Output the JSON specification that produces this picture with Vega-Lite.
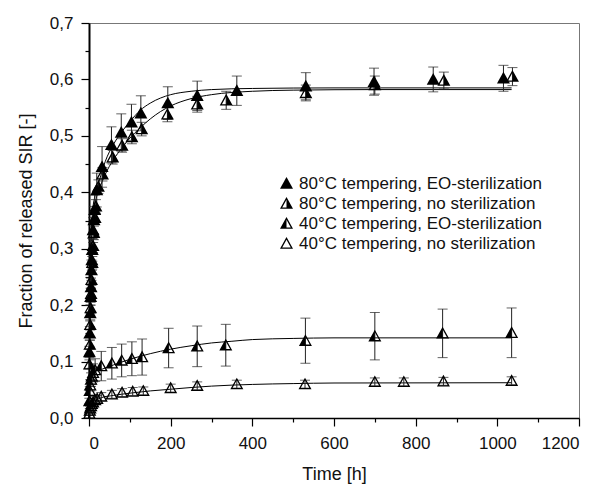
{
  "$schema": "https://vega.github.io/schema/vega-lite/v6.json",
  "width": 490,
  "height": 395,
  "autosize": {"type": "none"},
  "padding": {"left": 89, "top": 23, "right": 22, "bottom": 66},
  "background": "white",
  "config": {
    "view": {"stroke": "#777", "strokeWidth": 1},
    "font": "Liberation Sans",
    "axis": {"labelFont": "Liberation Sans", "titleFont": "Liberation Sans", "labelColor": "#111", "titleColor": "#111", "titleFontWeight": "normal", "grid": false, "domainColor": "black", "tickColor": "black"},
    "legend": {"labelFont": "Liberation Sans"}
  },
  "datasets": {
    "pts": [
      {"series": "80°C tempering, EO-sterilization", "t": 1, "v": 0.117, "err": 0.01},
      {"series": "80°C tempering, EO-sterilization", "t": 2, "v": 0.150, "err": 0.012},
      {"series": "80°C tempering, EO-sterilization", "t": 3, "v": 0.186, "err": 0.014},
      {"series": "80°C tempering, EO-sterilization", "t": 4, "v": 0.215, "err": 0.015},
      {"series": "80°C tempering, EO-sterilization", "t": 5, "v": 0.232, "err": 0.016},
      {"series": "80°C tempering, EO-sterilization", "t": 6, "v": 0.262, "err": 0.018},
      {"series": "80°C tempering, EO-sterilization", "t": 7, "v": 0.280, "err": 0.018},
      {"series": "80°C tempering, EO-sterilization", "t": 8, "v": 0.298, "err": 0.02},
      {"series": "80°C tempering, EO-sterilization", "t": 10, "v": 0.333, "err": 0.022},
      {"series": "80°C tempering, EO-sterilization", "t": 12, "v": 0.351, "err": 0.024},
      {"series": "80°C tempering, EO-sterilization", "t": 14, "v": 0.369, "err": 0.026},
      {"series": "80°C tempering, EO-sterilization", "t": 19, "v": 0.404, "err": 0.03},
      {"series": "80°C tempering, EO-sterilization", "t": 32, "v": 0.445, "err": 0.036},
      {"series": "80°C tempering, EO-sterilization", "t": 55, "v": 0.484, "err": 0.032},
      {"series": "80°C tempering, EO-sterilization", "t": 79, "v": 0.506, "err": 0.033},
      {"series": "80°C tempering, EO-sterilization", "t": 104, "v": 0.524, "err": 0.032},
      {"series": "80°C tempering, EO-sterilization", "t": 127, "v": 0.540, "err": 0.031},
      {"series": "80°C tempering, EO-sterilization", "t": 193, "v": 0.558, "err": 0.029},
      {"series": "80°C tempering, EO-sterilization", "t": 265, "v": 0.571, "err": 0.026},
      {"series": "80°C tempering, EO-sterilization", "t": 362, "v": 0.580, "err": 0.026},
      {"series": "80°C tempering, EO-sterilization", "t": 531, "v": 0.588, "err": 0.024},
      {"series": "80°C tempering, EO-sterilization", "t": 698, "v": 0.596, "err": 0.024},
      {"series": "80°C tempering, EO-sterilization", "t": 843, "v": 0.600, "err": 0.022},
      {"series": "80°C tempering, EO-sterilization", "t": 1015, "v": 0.602, "err": 0.023},

      {"series": "80°C tempering, no sterilization", "t": 1, "v": 0.095, "err": 0.008},
      {"series": "80°C tempering, no sterilization", "t": 2, "v": 0.13, "err": 0.008},
      {"series": "80°C tempering, no sterilization", "t": 3, "v": 0.165, "err": 0.009},
      {"series": "80°C tempering, no sterilization", "t": 4, "v": 0.195, "err": 0.01},
      {"series": "80°C tempering, no sterilization", "t": 5, "v": 0.22, "err": 0.01},
      {"series": "80°C tempering, no sterilization", "t": 6, "v": 0.245, "err": 0.01},
      {"series": "80°C tempering, no sterilization", "t": 8, "v": 0.275, "err": 0.011},
      {"series": "80°C tempering, no sterilization", "t": 10, "v": 0.305, "err": 0.012},
      {"series": "80°C tempering, no sterilization", "t": 12, "v": 0.328, "err": 0.012},
      {"series": "80°C tempering, no sterilization", "t": 15, "v": 0.355, "err": 0.012},
      {"series": "80°C tempering, no sterilization", "t": 17, "v": 0.375, "err": 0.012},
      {"series": "80°C tempering, no sterilization", "t": 23, "v": 0.410, "err": 0.012},
      {"series": "80°C tempering, no sterilization", "t": 33, "v": 0.432, "err": 0.012},
      {"series": "80°C tempering, no sterilization", "t": 58, "v": 0.462, "err": 0.012},
      {"series": "80°C tempering, no sterilization", "t": 81, "v": 0.483, "err": 0.012},
      {"series": "80°C tempering, no sterilization", "t": 105, "v": 0.498, "err": 0.012},
      {"series": "80°C tempering, no sterilization", "t": 129, "v": 0.512, "err": 0.012},
      {"series": "80°C tempering, no sterilization", "t": 192, "v": 0.538, "err": 0.013},
      {"series": "80°C tempering, no sterilization", "t": 265, "v": 0.556, "err": 0.014},
      {"series": "80°C tempering, no sterilization", "t": 336, "v": 0.563, "err": 0.016},
      {"series": "80°C tempering, no sterilization", "t": 531, "v": 0.576, "err": 0.014},
      {"series": "80°C tempering, no sterilization", "t": 700, "v": 0.590, "err": 0.016},
      {"series": "80°C tempering, no sterilization", "t": 869, "v": 0.598, "err": 0.015},
      {"series": "80°C tempering, no sterilization", "t": 1037, "v": 0.605, "err": 0.016},

      {"series": "40°C tempering, EO-sterilization", "t": 1, "v": 0.03, "err": 0.005},
      {"series": "40°C tempering, EO-sterilization", "t": 2, "v": 0.048, "err": 0.008},
      {"series": "40°C tempering, EO-sterilization", "t": 3, "v": 0.058, "err": 0.01},
      {"series": "40°C tempering, EO-sterilization", "t": 5, "v": 0.068, "err": 0.012},
      {"series": "40°C tempering, EO-sterilization", "t": 7, "v": 0.074, "err": 0.014},
      {"series": "40°C tempering, EO-sterilization", "t": 10, "v": 0.08, "err": 0.016},
      {"series": "40°C tempering, EO-sterilization", "t": 15, "v": 0.085, "err": 0.02},
      {"series": "40°C tempering, EO-sterilization", "t": 30, "v": 0.092, "err": 0.026},
      {"series": "40°C tempering, EO-sterilization", "t": 56, "v": 0.097, "err": 0.028},
      {"series": "40°C tempering, EO-sterilization", "t": 80, "v": 0.102, "err": 0.029},
      {"series": "40°C tempering, EO-sterilization", "t": 105, "v": 0.105, "err": 0.03},
      {"series": "40°C tempering, EO-sterilization", "t": 130, "v": 0.108, "err": 0.032},
      {"series": "40°C tempering, EO-sterilization", "t": 195, "v": 0.124, "err": 0.035},
      {"series": "40°C tempering, EO-sterilization", "t": 265, "v": 0.127, "err": 0.036},
      {"series": "40°C tempering, EO-sterilization", "t": 335, "v": 0.129, "err": 0.037},
      {"series": "40°C tempering, EO-sterilization", "t": 530, "v": 0.137, "err": 0.04},
      {"series": "40°C tempering, EO-sterilization", "t": 700, "v": 0.145, "err": 0.042},
      {"series": "40°C tempering, EO-sterilization", "t": 866, "v": 0.150, "err": 0.043},
      {"series": "40°C tempering, EO-sterilization", "t": 1035, "v": 0.151, "err": 0.044},

      {"series": "40°C tempering, no sterilization", "t": 1, "v": 0.008, "err": 0.003},
      {"series": "40°C tempering, no sterilization", "t": 2, "v": 0.013, "err": 0.004},
      {"series": "40°C tempering, no sterilization", "t": 3, "v": 0.017, "err": 0.004},
      {"series": "40°C tempering, no sterilization", "t": 5, "v": 0.021, "err": 0.005},
      {"series": "40°C tempering, no sterilization", "t": 7, "v": 0.025, "err": 0.005},
      {"series": "40°C tempering, no sterilization", "t": 10, "v": 0.028, "err": 0.006},
      {"series": "40°C tempering, no sterilization", "t": 15, "v": 0.032, "err": 0.006},
      {"series": "40°C tempering, no sterilization", "t": 20, "v": 0.034, "err": 0.006},
      {"series": "40°C tempering, no sterilization", "t": 30, "v": 0.038, "err": 0.007},
      {"series": "40°C tempering, no sterilization", "t": 56, "v": 0.042, "err": 0.007},
      {"series": "40°C tempering, no sterilization", "t": 81, "v": 0.045, "err": 0.007},
      {"series": "40°C tempering, no sterilization", "t": 107, "v": 0.047, "err": 0.007},
      {"series": "40°C tempering, no sterilization", "t": 133, "v": 0.048, "err": 0.007},
      {"series": "40°C tempering, no sterilization", "t": 200, "v": 0.053, "err": 0.007},
      {"series": "40°C tempering, no sterilization", "t": 265, "v": 0.057, "err": 0.007},
      {"series": "40°C tempering, no sterilization", "t": 362, "v": 0.060, "err": 0.007},
      {"series": "40°C tempering, no sterilization", "t": 529, "v": 0.060, "err": 0.007},
      {"series": "40°C tempering, no sterilization", "t": 700, "v": 0.064, "err": 0.007},
      {"series": "40°C tempering, no sterilization", "t": 771, "v": 0.064, "err": 0.007},
      {"series": "40°C tempering, no sterilization", "t": 868, "v": 0.065, "err": 0.007},
      {"series": "40°C tempering, no sterilization", "t": 1035, "v": 0.066, "err": 0.007}
    ],
    "fit": [
      {"series": "80EO", "t": 0, "v": 0.0},
      {"series": "80EO", "t": 1, "v": 0.12},
      {"series": "80EO", "t": 2, "v": 0.2},
      {"series": "80EO", "t": 4, "v": 0.3},
      {"series": "80EO", "t": 8, "v": 0.36},
      {"series": "80EO", "t": 15, "v": 0.395},
      {"series": "80EO", "t": 25, "v": 0.42},
      {"series": "80EO", "t": 40, "v": 0.455},
      {"series": "80EO", "t": 60, "v": 0.485},
      {"series": "80EO", "t": 80, "v": 0.507},
      {"series": "80EO", "t": 100, "v": 0.525},
      {"series": "80EO", "t": 125, "v": 0.545},
      {"series": "80EO", "t": 150, "v": 0.558},
      {"series": "80EO", "t": 175, "v": 0.567},
      {"series": "80EO", "t": 200, "v": 0.573},
      {"series": "80EO", "t": 250, "v": 0.579},
      {"series": "80EO", "t": 300, "v": 0.582},
      {"series": "80EO", "t": 400, "v": 0.584},
      {"series": "80EO", "t": 600, "v": 0.585},
      {"series": "80EO", "t": 1035, "v": 0.585},
      {"series": "80no", "t": 0, "v": 0.0},
      {"series": "80no", "t": 1, "v": 0.1},
      {"series": "80no", "t": 2, "v": 0.18},
      {"series": "80no", "t": 4, "v": 0.27},
      {"series": "80no", "t": 8, "v": 0.34},
      {"series": "80no", "t": 15, "v": 0.38},
      {"series": "80no", "t": 25, "v": 0.405},
      {"series": "80no", "t": 40, "v": 0.432},
      {"series": "80no", "t": 60, "v": 0.458},
      {"series": "80no", "t": 80, "v": 0.478},
      {"series": "80no", "t": 100, "v": 0.496},
      {"series": "80no", "t": 125, "v": 0.514},
      {"series": "80no", "t": 150, "v": 0.53},
      {"series": "80no", "t": 175, "v": 0.543},
      {"series": "80no", "t": 200, "v": 0.553},
      {"series": "80no", "t": 250, "v": 0.566},
      {"series": "80no", "t": 300, "v": 0.573},
      {"series": "80no", "t": 400, "v": 0.579},
      {"series": "80no", "t": 500, "v": 0.581},
      {"series": "80no", "t": 700, "v": 0.582},
      {"series": "80no", "t": 1035, "v": 0.582},
      {"series": "40EO", "t": 0, "v": 0.0},
      {"series": "40EO", "t": 1, "v": 0.04},
      {"series": "40EO", "t": 3, "v": 0.065},
      {"series": "40EO", "t": 8, "v": 0.078},
      {"series": "40EO", "t": 15, "v": 0.082},
      {"series": "40EO", "t": 30, "v": 0.086},
      {"series": "40EO", "t": 60, "v": 0.094},
      {"series": "40EO", "t": 100, "v": 0.104},
      {"series": "40EO", "t": 150, "v": 0.114},
      {"series": "40EO", "t": 200, "v": 0.122},
      {"series": "40EO", "t": 250, "v": 0.128},
      {"series": "40EO", "t": 300, "v": 0.133},
      {"series": "40EO", "t": 350, "v": 0.136},
      {"series": "40EO", "t": 400, "v": 0.139},
      {"series": "40EO", "t": 500, "v": 0.141},
      {"series": "40EO", "t": 600, "v": 0.142},
      {"series": "40EO", "t": 1035, "v": 0.142},
      {"series": "40no", "t": 0, "v": 0.0},
      {"series": "40no", "t": 1, "v": 0.012},
      {"series": "40no", "t": 3, "v": 0.02},
      {"series": "40no", "t": 8, "v": 0.027},
      {"series": "40no", "t": 15, "v": 0.031},
      {"series": "40no", "t": 30, "v": 0.036},
      {"series": "40no", "t": 60, "v": 0.04},
      {"series": "40no", "t": 100, "v": 0.044},
      {"series": "40no", "t": 150, "v": 0.048},
      {"series": "40no", "t": 200, "v": 0.051},
      {"series": "40no", "t": 250, "v": 0.054},
      {"series": "40no", "t": 300, "v": 0.0565},
      {"series": "40no", "t": 400, "v": 0.0595},
      {"series": "40no", "t": 500, "v": 0.061},
      {"series": "40no", "t": 600, "v": 0.062},
      {"series": "40no", "t": 1035, "v": 0.0625}
    ]
  },
  "resolve": {"axis": {"x": "independent", "y": "independent"}},
  "layer": [
    {
      "data": {"name": "fit"},
      "mark": {"type": "line", "color": "black", "strokeWidth": 1, "interpolate": "monotone"},
      "encoding": {
        "x": {"field": "t", "type": "quantitative", "scale": {"domain": [0, 1200], "nice": false},
          "axis": {"orient": "bottom", "values": [0, 200, 400, 600, 800, 1000, 1200], "format": "d", "title": "Time [h]", "titleFontSize": 18, "labelFontSize": 17, "tickSize": 8, "labelPadding": 9, "titlePadding": 14, "domainWidth": 1.5, "tickWidth": 1.2}},
        "y": {"field": "v", "type": "quantitative", "scale": {"domain": [0, 0.7], "nice": false},
          "axis": {"orient": "left", "values": [0, 0.1, 0.2, 0.3, 0.4, 0.5, 0.6, 0.7], "labelExpr": "replace(format(datum.value, '.1f'), '.', ',')", "title": "Fraction of released SIR [-]", "titleFontSize": 18, "labelFontSize": 17, "tickSize": 8, "labelPadding": 8, "titlePadding": 14, "domainWidth": 2, "tickWidth": 1.2}},
        "detail": {"field": "series"}
      }
    },
    {
      "data": {"name": "pts"},
      "mark": {"type": "errorbar", "color": "#222", "thickness": 1, "ticks": {"size": 10, "thickness": 1, "color": "#222"}},
      "encoding": {
        "x": {"field": "t", "type": "quantitative", "axis": null},
        "y": {"field": "v", "type": "quantitative", "axis": null},
        "yError": {"field": "err"}
      }
    },
    {
      "data": {"name": "pts"},
      "mark": {"type": "point", "filled": true, "color": "black", "opacity": 1, "size": 169, "strokeWidth": 0},
      "encoding": {
        "x": {"field": "t", "type": "quantitative",
          "axis": {"orient": "bottom", "values": [100, 300, 500, 700, 900, 1100], "labels": false, "title": null, "domain": false, "tickSize": 4, "tickWidth": 1.2}},
        "y": {"field": "v", "type": "quantitative",
          "axis": {"orient": "left", "values": [0.05, 0.15, 0.25, 0.35, 0.45, 0.55, 0.65], "labels": false, "title": null, "domain": false, "tickSize": 4, "tickWidth": 1.2}},
        "shape": {"field": "series", "type": "nominal",
          "scale": {"domain": ["80°C tempering, EO-sterilization", "80°C tempering, no sterilization", "40°C tempering, EO-sterilization", "40°C tempering, no sterilization"],
            "range": ["M0,-1L1,0.8L-1,0.8Z", "M0,-1L1,0.8L-1,0.8Z M0,-0.588L-0.66,0.6L0.66,0.6Z M0,-1L1,0.8L0,0.8Z", "M0,-1L1,0.8L-1,0.8Z M0,-0.588L-0.66,0.6L0.66,0.6Z M0,-1L0,0.8L-1,0.8Z", "M0,-1L1,0.8L-1,0.8Z M0,-0.588L-0.66,0.6L0.66,0.6Z"]},
          "legend": {"orient": "none", "legendX": 189, "legendY": 152, "title": null, "labelFontSize": 17, "labelColor": "#111", "labelLimit": 0, "symbolSize": 169, "symbolFillColor": "black", "symbolStrokeWidth": 0, "symbolOpacity": 1, "rowPadding": 2, "labelOffset": 4}}
      }
    }
  ]
}
